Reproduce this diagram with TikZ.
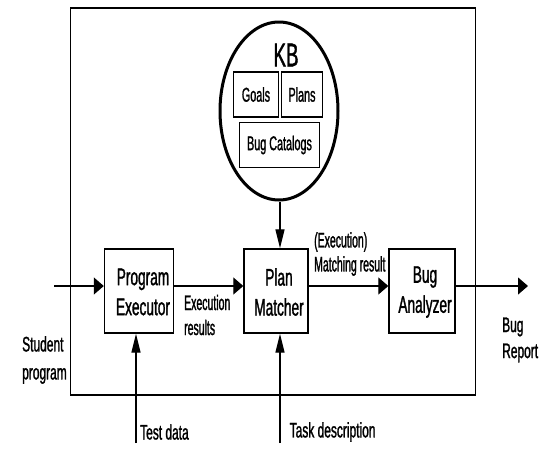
\documentclass[tikz,border=0pt]{standalone}
\usepackage{fontspec}
\setmainfont[FakeStretch=0.57, FakeBold=1.2]{Liberation Sans}
\newfontfamily\lblfont[FakeStretch=0.5, FakeBold=1.2]{Liberation Sans}
\newfontfamily\kbfont[FakeStretch=0.54, FakeBold=1.2]{Liberation Sans}
\usetikzlibrary{arrows.meta,shapes.geometric}
\tikzset{
  box/.style={draw, line width=1.4pt, inner sep=0pt},
  kbbox/.style={draw, line width=1.2pt, inner sep=0pt, font=\kbfont\fontsize{20}{20}\selectfont},
  boxtext/.style={inner sep=0pt, align=center, font=\fontsize{24}{30}\selectfont},
  lbl/.style={inner sep=0pt, anchor=west, align=left},
  harrow/.style={line width=1.3pt, -{Triangle[length=10pt,width=17pt]}},
  varrow/.style={line width=1.3pt, -{Triangle[length=19pt,width=9pt]}}
}
\begin{document}
\begin{tikzpicture}[x=1pt,y=-1pt]
\useasboundingbox (0,0) rectangle (547,456);
% outer frame
\node[draw, line width=1.8pt, minimum width=405pt, minimum height=387pt, inner sep=0pt] (frame) at (273,201.5) {};
% knowledge base
\node[ellipse, draw, line width=3pt, minimum width=118pt, minimum height=178pt, inner sep=0pt] (kb) at (279,111) {};
\node[inner sep=0pt, font=\fontsize{33}{34}\selectfont] (kbt) at (286,55) {KB};
\node[kbbox, minimum width=45pt, minimum height=45pt] (goals) at (256,94.5) {Goals};
\node[kbbox, minimum width=41pt, minimum height=45pt] (plans) at (302,94.5) {Plans};
\node[kbbox, minimum width=80pt, minimum height=45pt] (bugcat) at (279.5,145) {Bug Catalogs};
% main boxes
\node[box, minimum width=69pt, minimum height=84pt] (pe) at (139,291) {};
\node[boxtext] (pet) at (143,292) {Program\\Executor};
\node[box, minimum width=64pt, minimum height=84pt] (pm) at (276,291) {};
\node[boxtext] (pmt) at (279,292) {Plan\\Matcher};
\node[box, minimum width=66pt, minimum height=84pt] (ba) at (422,291) {};
\node[boxtext] (bat) at (425,292) {Bug\\Analyzer};
% free ends
\coordinate (sin) at (54,286);
\coordinate (rout) at (528,286);
\coordinate (tdin) at (136,443);
\coordinate (tkin) at (280,443);
% connectors
\draw[harrow] (sin) -- (sin -| pe.west);
\draw[harrow] (pe.east |- sin) -- (pm.west |- sin);
\draw[harrow] (pm.east |- sin) -- (ba.west |- sin);
\draw[harrow] (ba.east |- sin) -- (rout);
\draw[varrow] (kb.south -| tkin) -- (tkin |- pm.north);
\draw[varrow] (tdin) -- (tdin |- pe.south);
\draw[varrow] (tkin) -- (tkin |- pm.south);
% labels
\node[lbl, font=\lblfont\fontsize{21}{25}\selectfont] (exres) at (184,315) {Execution\\results};
\node[lbl, font=\lblfont\fontsize{21}{24}\selectfont] (mres) at (314,254) {(Execution)\\Matching result};
\node[lbl, font=\fontsize{21}{28}\selectfont] (stud) at (22,360) {Student\\program};
\node[lbl, font=\fontsize{21}{26}\selectfont] (brep) at (502,340) {Bug\\Report};
\node[lbl, font=\fontsize{21}{20}\selectfont] (tdata) at (140,432) {Test data};
\node[lbl, font=\fontsize{21}{20}\selectfont] (tdesc) at (289.5,432) {Task description};
\end{tikzpicture}
\end{document}
